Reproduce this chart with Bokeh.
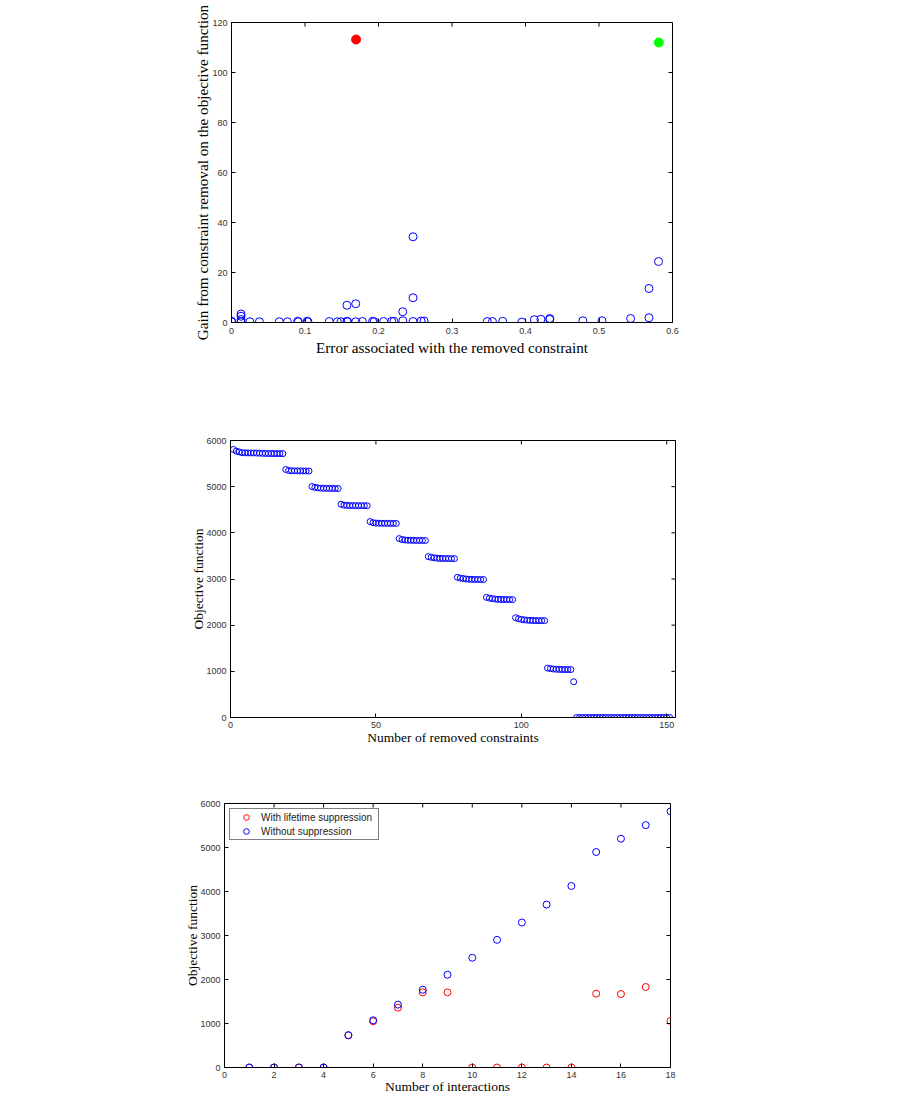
import math
from bokeh.plotting import figure
from bokeh.models import Range1d, FixedTicker, Legend, LegendItem
from bokeh.layouts import column
from bokeh.embed import file_html
from bokeh.resources import INLINE

# ---------------- data ----------------
# Chart 1: gain vs error of removed constraint
error_vals = [0.000, 0.000, 0.013, 0.013, 0.013, 0.013, 0.025, 0.038, 0.065, 0.076,
              0.090, 0.091, 0.103, 0.104, 0.133, 0.144, 0.149, 0.157, 0.157, 0.158,
              0.169, 0.169, 0.178, 0.192, 0.194, 0.207, 0.218, 0.221, 0.233, 0.233,
              0.247, 0.247, 0.247, 0.258, 0.262, 0.348, 0.355, 0.369, 0.395, 0.412,
              0.421, 0.433, 0.433, 0.478, 0.504, 0.543, 0.568, 0.568, 0.581]
gain_vals = [0.3, 0.5, 3.4, 2.5, 1.2, 0.3, 0.3, 0.3, 0.3, 0.3,
             0.5, 0.3, 0.5, 0.3, 0.4, 0.3, 0.3, 6.9, 0.5, 0.3,
             7.5, 0.3, 0.4, 0.5, 0.3, 0.4, 0.5, 0.5, 4.3, 0.7,
             34.3, 9.9, 0.4, 0.6, 0.6, 0.4, 0.4, 0.5, 0.2, 1.1,
             1.3, 1.2, 1.6, 0.7, 0.7, 1.6, 13.6, 1.9, 24.4]
red_err = [0.1695]
red_gain = [113.2]
green_err = [0.5814]
green_gain = [112.0]

# Chart 2: objective function vs number of removed constraints
removed_n = list(range(1, 152))
objective_removed = [
    5806, 5770, 5752, 5735, 5733, 5731, 5730, 5730, 5728, 5726, 5722, 5720, 5718, 5718, 5717, 5717, 5716, 5716,
    5372, 5350, 5345, 5343, 5342, 5341, 5340, 5340, 5339,
    5003, 4985, 4975, 4968, 4965, 4963, 4962, 4961, 4960, 4960,
    4620, 4600, 4594, 4591, 4590, 4589, 4588, 4588, 4587, 4587,
    4244, 4220, 4212, 4208, 4207, 4206, 4205, 4205, 4204, 4204,
    3875, 3855, 3845, 3840, 3838, 3836, 3835, 3835, 3834, 3834,
    3485, 3470, 3460, 3450, 3447, 3445, 3444, 3443, 3442, 3442,
    3037, 3020, 3010, 3000, 2995, 2992, 2990, 2989, 2988, 2988,
    2603, 2585, 2575, 2565, 2560, 2557, 2555, 2554, 2553, 2553,
    2162, 2140, 2125, 2115, 2108, 2104, 2102, 2100, 2099, 2099, 2098,
    1070, 1060, 1050, 1045, 1042, 1040, 1039, 1038, 1038,
    774,
    0, 0, 0, 0, 0, 0, 0, 0, 0, 0, 0, 0, 0, 0, 0, 0, 0, 0, 0, 0, 0, 0, 0, 0, 0, 0, 0, 0, 0, 0, 0, 0, 0,
]

# Chart 3: objective function vs number of interactions
interactions = [1, 2, 3, 4, 5, 6, 7, 8, 9, 10, 11, 12, 13, 14, 15, 16, 17, 18]
with_suppression = [0, 0, 0, 0, 733, 1050, 1360, 1708, 1708, 0, 0, 0, 0, 0, 1678, 1670, 1829, 1058]
without_suppression = [0, 0, 0, 0, 733, 1073, 1428, 1768, 2108, 2494, 2902, 3295, 3703, 4126,
                       4897, 5199, 5509, 5819]

x1_ticks = [0, 0.1, 0.2, 0.3, 0.4, 0.5, 0.6]
x1_labels = ["0", "0.1", "0.2", "0.3", "0.4", "0.5", "0.6"]
y1_ticks = [0, 20, 40, 60, 80, 100, 120]
x2_ticks = [0, 50, 100, 150]
y_obj_ticks = [0, 1000, 2000, 3000, 4000, 5000, 6000]
x3_ticks = [0, 2, 4, 6, 8, 10, 12, 14, 16, 18]

SERIF = "Liberation Serif"
SANS = "Liberation Sans"
TOTAL_W = 880


def dress(p, xticks, yticks, xlabel, ylabel, xover=None, label_size="13.5px",
          ylab_stand=4, ylabel_stand=5, xlab_stand=4, xlabel_stand=3):
    p.grid.visible = False
    p.outline_line_color = "black"
    p.outline_line_width = 1
    xa = p.xaxis[0]
    ya = p.yaxis[0]
    for ax, ticks in ((xa, xticks), (ya, yticks)):
        ax.ticker = FixedTicker(ticks=ticks)
        ax.major_tick_in = 4
        ax.major_tick_out = 0
        ax.minor_tick_in = 0
        ax.minor_tick_out = 0
        ax.axis_line_color = "black"
        ax.major_tick_line_color = "black"
        ax.major_label_text_font = SANS
        ax.major_label_text_font_size = "9px"
        ax.major_label_text_color = "#333333"
        ax.axis_label_text_font = SERIF
        ax.axis_label_text_font_size = label_size
        ax.axis_label_text_font_style = "normal"
        ax.axis_label_text_color = "black"
    xa.axis_label = xlabel
    ya.axis_label = ylabel
    xa.major_label_standoff = xlab_stand
    xa.axis_label_standoff = xlabel_stand
    ya.major_label_standoff = ylab_stand
    ya.axis_label_standoff = ylabel_stand
    if xover:
        xa.major_label_overrides = xover
    # inward ticks on the top and right edges of the box (half of each dash is clipped)
    xr, yr = p.x_range, p.y_range
    p.scatter(xticks, [yr.end] * len(xticks), marker="dash", angle=math.pi / 2, size=8,
              line_color="black", line_width=1)
    p.scatter([xr.end] * len(yticks), yticks, marker="dash", size=8,
              line_color="black", line_width=1)


def make_fig(left, top, fw, fh, bottom, xr, yr):
    return figure(frame_width=fw, frame_height=fh,
                  min_border_left=left, min_border_top=top,
                  min_border_right=TOTAL_W - left - fw, min_border_bottom=bottom,
                  x_range=Range1d(*xr), y_range=Range1d(*yr),
                  output_backend="svg", toolbar_location=None, title=None,
                  background_fill_color="white", border_fill_color="white")


# ---------------- chart 1 ----------------
p1 = make_fig(231, 22, 441, 300, 58, (0, 0.6), (0, 120))
p1.scatter(error_vals, gain_vals, marker="circle", size=8, fill_color=None,
           line_color="#0000ff", line_width=1)
p1.scatter(red_err, red_gain, marker="circle", size=9, fill_color="#ff0000", line_color="#ff0000")
p1.scatter(green_err, green_gain, marker="circle", size=9, fill_color="#00ff00", line_color="#00ff00")
dress(p1, x1_ticks, y1_ticks, "Error associated with the removed constraint",
      "Gain from constraint removal on the objective function",
      xover={t: l for t, l in zip(x1_ticks, x1_labels)}, label_size="15.2px",
      ylabel_stand=-2, xlab_stand=5, xlabel_stand=2)

# ---------------- chart 2 ----------------
p2 = make_fig(230, 60, 445, 277, 43, (0, 153), (0, 6000))
p2.scatter(removed_n, objective_removed, marker="circle", size=6, fill_color=None,
           line_color="#0000ff", line_width=1)
dress(p2, x2_ticks, y_obj_ticks, "Number of removed constraints", "Objective function",
      ylabel_stand=-3, xlabel_stand=-1)

# ---------------- chart 3 ----------------
p3 = make_fig(224, 43, 446, 264, 25, (0, 18), (0, 6000))
r_red = p3.scatter(interactions, with_suppression, marker="circle", size=7, fill_color=None,
                   line_color="#ff0000", line_width=1)
r_blue = p3.scatter(interactions, without_suppression, marker="circle", size=7, fill_color=None,
                    line_color="#0000ff", line_width=1)
dress(p3, x3_ticks, y_obj_ticks, "Number of interactions", "Objective function",
      ylabel_stand=-3, xlabel_stand=-2)
legend = Legend(items=[LegendItem(label="With lifetime suppression", renderers=[r_red]),
                       LegendItem(label="Without suppression", renderers=[r_blue])],
                location="top_left", margin=5, padding=1, spacing=0,
                label_height=14, glyph_height=14, glyph_width=30, label_standoff=0,
                label_width=116,
                label_text_font=SANS, label_text_font_size="10px", label_text_color="#222222",
                border_line_color="black", border_line_width=1,
                background_fill_color="white", background_fill_alpha=1)
p3.add_layout(legend)

layout = column(column(p1, spacing=0), column(p2, spacing=0), column(p3, spacing=0), spacing=0)
open("out.html", "w").write(file_html(layout, INLINE))
